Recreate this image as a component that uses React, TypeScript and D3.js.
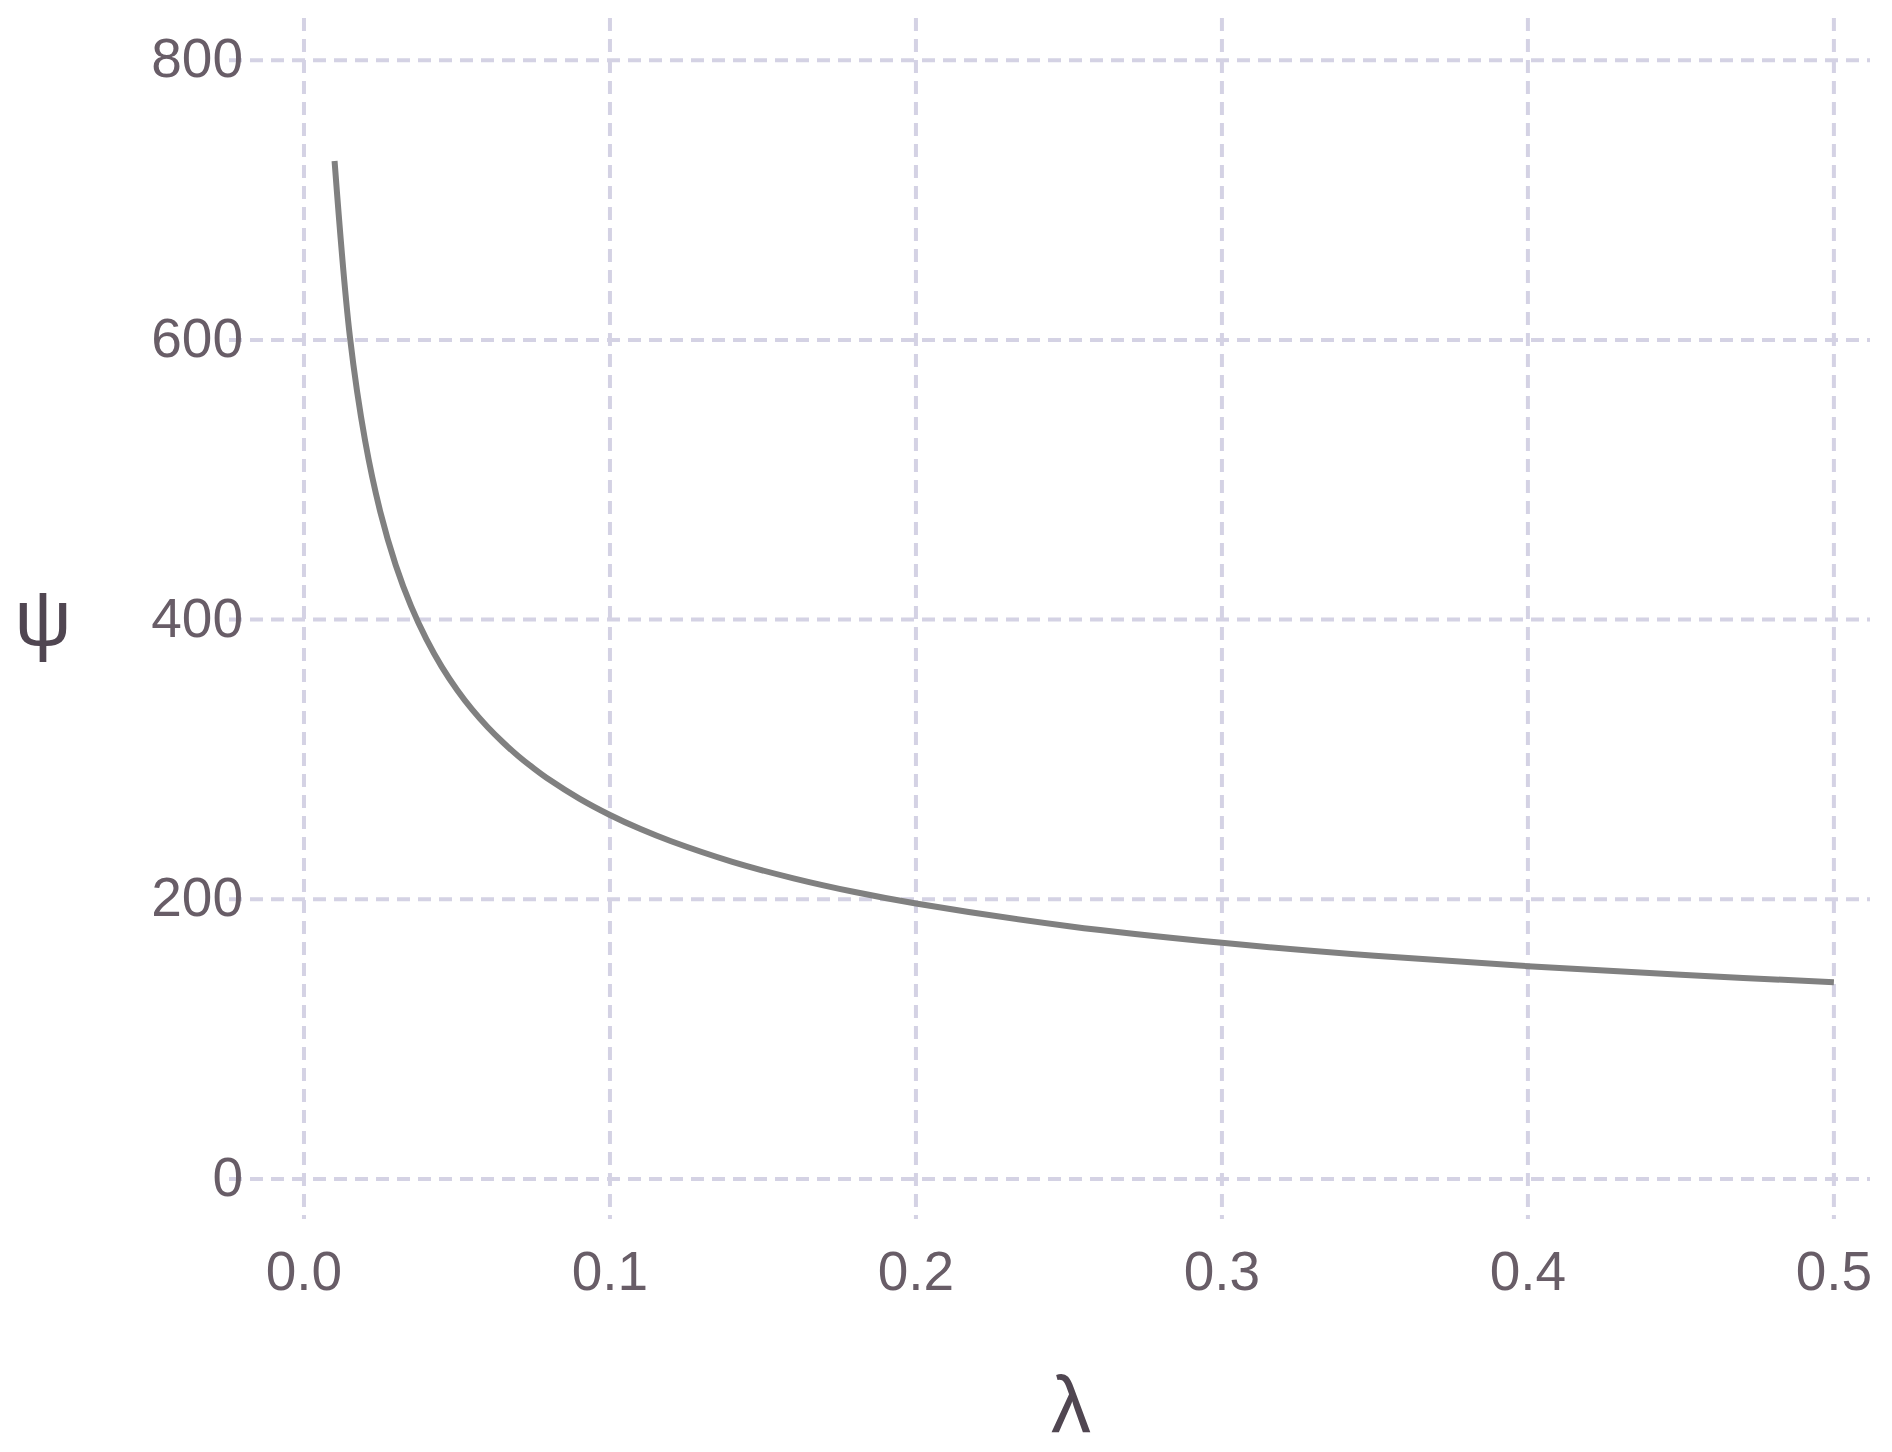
import React, { useEffect, useRef } from "react";
import * as d3 from "d3";

// values
const lambdaValues = [
  0.01, 0.015, 0.02, 0.025, 0.03, 0.035, 0.04, 0.045, 0.05, 0.055, 0.06, 0.065,
  0.07, 0.075, 0.08, 0.09, 0.1, 0.11, 0.12, 0.14, 0.16, 0.18, 0.2, 0.25, 0.3,
  0.35, 0.4, 0.45, 0.5,
];
const psiValues = [
  728, 602.5, 527.7, 476.6, 438.9, 409.6, 386, 366.4, 349.9, 335.6, 323.2,
  312.3, 302.5, 293.8, 285.8, 272, 260.3, 250.2, 241.5, 226.8, 215, 205.2,
  197, 180.8, 168.9, 159.6, 152.2, 146, 140.7,
];
const xTicks = [0, 0.1, 0.2, 0.3, 0.4, 0.5];
const yTicks = [0, 200, 400, 600, 800];

export default function App() {
  const svgRef = useRef<SVGSVGElement>(null);

  useEffect(() => {
    const width = 1892;
    const height = 1452;
    const panel = { left: 229, right: 1870, top: 18, bottom: 1219 };

    const svg = d3.select(svgRef.current);
    svg.selectAll("*").remove();
    svg.attr("width", width).attr("height", height);

    const x = d3
      .scaleLinear()
      .domain([-0.0245, 0.5118])
      .range([panel.left, panel.right]);
    const y = d3
      .scaleLinear()
      .domain([-28.6, 830.2])
      .range([panel.bottom, panel.top]);

    const gridColor = "#d4d2e4";
    const tickColor = "#685d67";
    const titleColor = "#504651";
    const font = "'Liberation Sans', Arial, Helvetica, sans-serif";

    // grid
    svg
      .append("g")
      .selectAll("line")
      .data(yTicks)
      .enter()
      .append("line")
      .attr("x1", panel.left)
      .attr("x2", panel.right)
      .attr("y1", (d) => y(d))
      .attr("y2", (d) => y(d))
      .attr("stroke", gridColor)
      .attr("stroke-width", 4)
      .attr("stroke-dasharray", "13 8");

    svg
      .append("g")
      .selectAll("line")
      .data(xTicks)
      .enter()
      .append("line")
      .attr("x1", (d) => x(d))
      .attr("x2", (d) => x(d))
      .attr("y1", panel.top)
      .attr("y2", panel.bottom)
      .attr("stroke", gridColor)
      .attr("stroke-width", 4)
      .attr("stroke-dasharray", "13 8");

    // tick labels
    svg
      .append("g")
      .selectAll("text")
      .data(yTicks)
      .enter()
      .append("text")
      .attr("x", 243)
      .attr("y", (d) => y(d) + 17)
      .attr("text-anchor", "end")
      .style("font-family", font)
      .style("font-size", "55px")
      .attr("fill", tickColor)
      .text((d) => d3.format("d")(d));

    svg
      .append("g")
      .selectAll("text")
      .data(xTicks)
      .enter()
      .append("text")
      .attr("x", (d) => x(d))
      .attr("y", 1290)
      .attr("text-anchor", "middle")
      .style("font-family", font)
      .style("font-size", "55px")
      .attr("fill", tickColor)
      .text((d) => d3.format(".1f")(d));

    // axis titles
    svg
      .append("text")
      .attr("x", 43)
      .attr("y", 645)
      .attr("text-anchor", "middle")
      .style("font-family", font)
      .style("font-size", "80px")
      .attr("fill", titleColor)
      .text("ψ");

    svg
      .append("text")
      .attr("x", 1071)
      .attr("y", 1432)
      .attr("text-anchor", "middle")
      .style("font-family", font)
      .style("font-size", "80px")
      .attr("fill", titleColor)
      .text("λ");

    // curve
    const points = lambdaValues.map((l, i) => [l, psiValues[i]] as [number, number]);
    const line = d3
      .line<[number, number]>()
      .x((d) => x(d[0]))
      .y((d) => y(d[1]))
      .curve(d3.curveCatmullRom.alpha(0.5));

    svg
      .append("path")
      .datum(points)
      .attr("d", line)
      .attr("fill", "none")
      .attr("stroke", "#808080")
      .attr("stroke-width", 6);
  }, []);

  return (
    <svg
      ref={svgRef}
      style={{ position: "absolute", left: 0, top: 0, background: "#fff" }}
    />
  );
}
